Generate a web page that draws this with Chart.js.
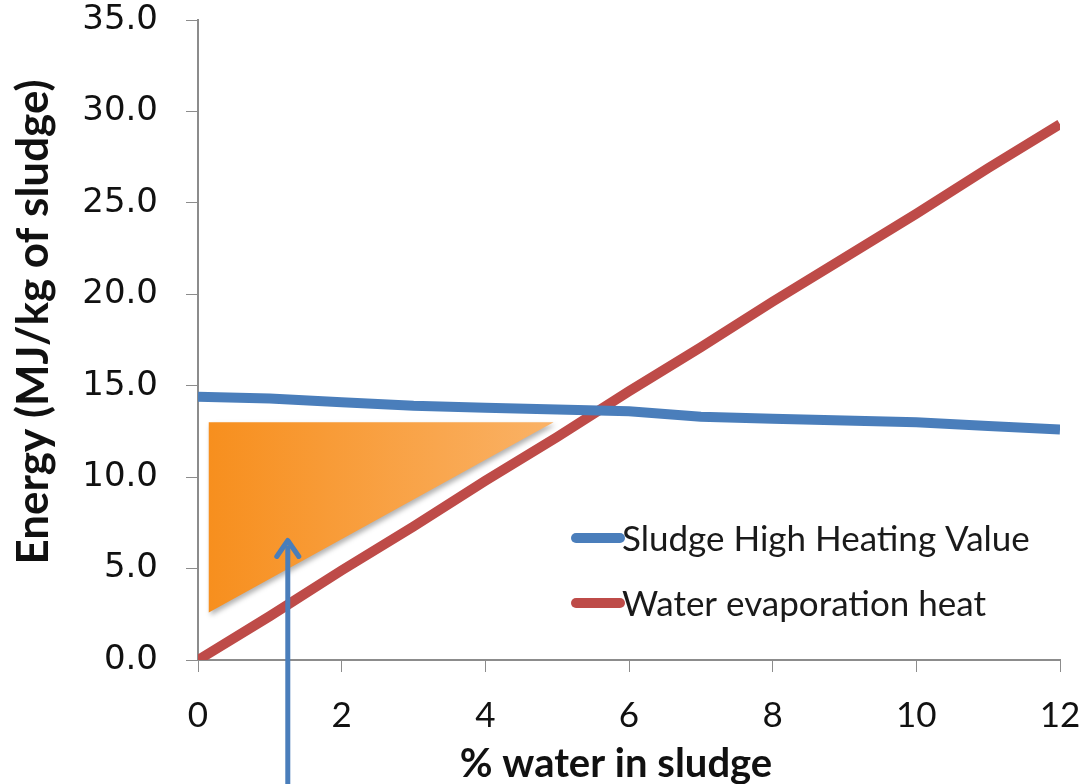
<!DOCTYPE html>
<html>
<head>
<meta charset="utf-8">
<script src="https://cdn.jsdelivr.net/npm/chart.js@4"></script>
<style>
html,body{margin:0;padding:0;background:#fff;}
#wrap{width:1082px;height:784px;}
</style>
</head>
<body>
<div id="wrap"><canvas id="c" width="1082" height="784"></canvas></div>
<script>
// ---- data ----
const waterPct = [0,1,2,3,4,5,6,7,8,9,10,11,12];
const sludgeHHV = [14.4,14.3,14.1,13.9,13.8,13.7,13.6,13.3,13.2,13.1,13.0,12.8,12.6];
const evapHeat = [0,2.4,4.9,7.3,9.8,12.2,14.7,17.1,19.6,22.0,24.4,26.9,29.3];
const seriesNames = ["Sludge High Heating Value","Water evaporation heat"];
const triangleX = [0.15,4.95,0.15];
const triangleY = [13.0,13.0,2.6];
const arrowX = 1.25;
const arrowTipY = 6.7;
const yTicks = [0,5,10,15,20,25,30,35];
const xTicks = [0,2,4,6,8,10,12];
const yTitle = 'Energy (MJ/kg of sludge)';
const xTitle = '% water in sludge';

const BLUE = '#4A7EBB', RED = '#BE4B48', AXIS = '#8c8c8c';

const toPts = (xs, ys) => xs.map((x,i)=>({x:x,y:ys[i]}));

const decorPlugin = {
  id:'decor',
  beforeDatasetsDraw(chart){
    const {ctx, scales:{x,y}} = chart;
    ctx.save();
    const px = triangleX.map(v=>x.getPixelForValue(v));
    const py = triangleY.map(v=>y.getPixelForValue(v));
    const g = ctx.createLinearGradient(px[0],0,px[1],0);
    g.addColorStop(0,'#F78F1E');
    g.addColorStop(1,'#FAB266');
    ctx.shadowColor='rgba(0,0,0,0.3)';
    ctx.shadowBlur=5; ctx.shadowOffsetX=2; ctx.shadowOffsetY=3;
    ctx.beginPath();
    ctx.moveTo(px[0],py[0]);
    for(let i=1;i<px.length;i++) ctx.lineTo(px[i],py[i]);
    ctx.closePath();
    ctx.fillStyle=g; ctx.fill();
    ctx.restore();
  },
  afterDraw(chart){
    const {ctx, scales:{x,y}} = chart;
    ctx.save();
    // axis titles
    ctx.fillStyle = '#111';
    ctx.textAlign='center'; ctx.textBaseline='middle';
    ctx.save();
    ctx.translate(34, 322);
    ctx.rotate(-Math.PI/2);
    ctx.font = 'bold 44px Lato';
    ctx.fillText(yTitle, 0, 0);
    ctx.restore();
    ctx.font = 'bold 40px Lato';
    ctx.fillText(xTitle, 616, 764);
    // arrow
    const ax = x.getPixelForValue(arrowX);
    const tip = y.getPixelForValue(arrowTipY);
    ctx.strokeStyle=BLUE; ctx.fillStyle=BLUE; ctx.lineWidth=5;
    ctx.beginPath(); ctx.moveTo(ax, chart.height); ctx.lineTo(ax, tip+8); ctx.stroke();
    ctx.lineJoin='round'; ctx.lineCap='round';
    ctx.beginPath(); ctx.moveTo(ax-11, tip+19); ctx.lineTo(ax, tip+3); ctx.lineTo(ax+11, tip+19); ctx.stroke();
    // legend
    const ds = chart.data.datasets;
    const lx = 576, ly=[538,603];
    ctx.font = '35px Lato';
    ctx.textAlign='left';
    ctx.textBaseline='middle';
    ctx.lineCap='round';
    ds.forEach((d,i)=>{
      ctx.strokeStyle=d.borderColor; ctx.lineWidth=10;
      ctx.beginPath(); ctx.moveTo(lx, ly[i]); ctx.lineTo(lx+44, ly[i]); ctx.stroke();
      ctx.fillStyle='#1a1a1a';
      ctx.fillText(d.label, lx+46, ly[i]+2);
    });
    ctx.restore();
  }
};

new Chart(document.getElementById('c'), {
  type:'line',
  data:{
    datasets:[
      {label:seriesNames[0], data:toPts(waterPct,sludgeHHV), borderColor:BLUE, borderWidth:10, pointRadius:0, pointHoverRadius:0, tension:0, borderCapStyle:'butt'},
      {label:seriesNames[1], data:toPts(waterPct,evapHeat), borderColor:RED, borderWidth:10, pointRadius:0, pointHoverRadius:0, tension:0, borderCapStyle:'butt'}
    ]
  },
  options:{
    responsive:false, animation:false,
    layout:{padding:0, autoPadding:false},
    plugins:{legend:{display:false}, tooltip:{enabled:false}},
    scales:{
      x:{type:'linear', min:0, max:12,
        afterBuildTicks(s){ s.ticks = xTicks.map(v=>({value:v})); },
        afterFit(s){ s.height = 124; s.paddingLeft = 0; s.paddingRight = 22; },
        grid:{display:true, drawOnChartArea:false, drawTicks:true, tickLength:12, color:AXIS},
        border:{display:true, color:AXIS, width:2},
        ticks:{font:{family:'Lato', size:35}, color:'#111', padding:23, maxRotation:0},
        title:{display:false}
      },
      y:{min:0, max:35,
        afterBuildTicks(s){ s.ticks = yTicks.map(v=>({value:v})); },
        afterFit(s){ s.width = 198; s.paddingTop = 20; s.paddingBottom = 0; },
        grid:{display:true, drawOnChartArea:false, drawTicks:true, tickLength:12, color:AXIS},
        border:{display:true, color:AXIS, width:2},
        ticks:{font:{family:'DejaVu Sans', size:34}, color:'#111', padding:28, callback:v=>Number(v).toFixed(1)},
        title:{display:false}
      }
    }
  },
  plugins:[decorPlugin]
});
</script>
</body>
</html>
